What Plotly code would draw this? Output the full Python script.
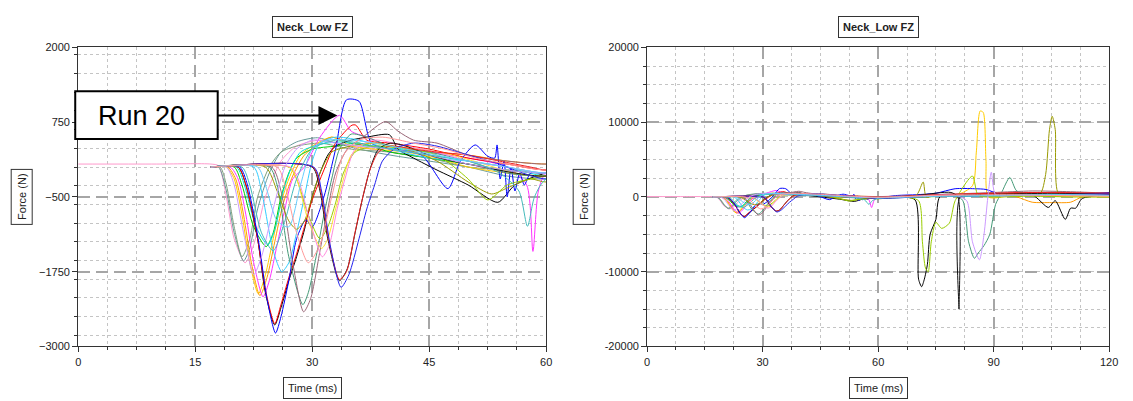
import plotly.graph_objects as go

W, H = 1133, 401
grid_major = "#a6a6a6"
grid_minor = "#c4c4c4"
frame_color = "#333333"
text_color = "#222222"

# one entry per run: colour, time (ms), force (N)
run_colors = [
    "#ff99cc", "#669999", "#7fa07f", "#ffcc00", "#ff9900", "#ff33ff",
    "#00cc00", "#00dddd", "#000000", "#ff0000", "#0000ff", "#33ccff",
    "#449977", "#996677", "#999900", "#99cc00", "#ffe033", "#ff88dd",
    "#111111", "#ee2222", "#2222ee", "#cc99ff", "#44bbbb", "#66ccff",
    "#ff9999",
]

run_times = [
    [0, 10, 17, 18, 19, 20, 21.4, 22.5, 24, 26, 28, 31, 35, 40, 45, 50, 55, 60, 70, 80, 90, 100, 110, 120],
    [17, 18, 19, 20, 21.2, 22, 23, 24.5, 26, 28, 30.7, 33, 36, 40, 45, 50, 55, 60, 70, 80, 90, 100, 110, 120],
    [17, 18.2, 19, 20, 21, 22, 23, 24.5, 26, 28, 31, 35, 40, 45, 50, 55, 60, 75, 90, 105, 120],
    [17, 19, 20, 21, 22, 23.1, 24, 25, 26, 27, 28.5, 30, 32.5, 35, 38, 42, 46, 50, 55, 60, 70, 80, 84.5, 85.5, 86.5, 87.3, 88, 88.7, 95, 105, 120],
    [17, 19.2, 20.2, 21.2, 22.2, 23.3, 24.2, 25.2, 26.2, 27.5, 29, 31, 32.5, 35, 40, 45, 50, 55, 60, 70, 80, 90, 96, 100, 105, 110, 113, 120],
    [17, 19.5, 20.5, 21.5, 22.5, 23.7, 24.5, 25.5, 26.5, 27.5, 29, 31, 33.5, 35, 37, 40, 45, 50, 55, 57.5, 58.3, 59, 60, 70, 80, 90, 100, 110, 120],
    [17, 20, 21, 22.5, 24.1, 25, 26, 27, 28, 30, 33, 36, 40, 45, 50, 55, 60, 70, 80, 90, 100, 110, 120],
    [17, 20.3, 21.3, 22.8, 24.3, 25.2, 26.2, 27.2, 28.5, 31, 34, 37, 41, 45, 50, 55, 60, 75, 90, 105, 120],
    [17, 20.5, 21.5, 23, 24, 25.2, 26, 27, 28, 29, 30, 31, 32, 33, 35, 37, 39.9, 41, 43, 46, 50, 53.8, 56, 60, 65, 69.6, 70.5, 71.3, 72, 72.8, 73.5, 75, 76, 80, 90, 100, 104.2, 106, 108.6, 110, 111.3, 113, 120],
    [17, 20.5, 21.5, 23, 24, 25.2, 26, 27, 28, 29, 30, 31.5, 33, 35.1, 35.6, 37, 40, 45, 50, 55, 60, 70, 80, 90, 100, 110, 120],
    [17, 20.7, 21.7, 23.2, 24.2, 25.3, 26, 27, 28, 29.2, 30, 31.5, 33, 34.4, 36, 37.6, 40, 44, 47.4, 49, 50.9, 52.5, 53.4, 53.7, 54.1, 54.6, 55, 55.5, 56, 56.6, 57.2, 58, 60, 65, 70, 75, 80, 85, 88, 92, 100, 110, 120],
    [17, 22.5, 23.5, 25, 26.1, 27, 28, 29, 30, 31, 33, 36, 40, 45, 50, 55, 60, 75, 90, 105, 120],
    [17, 24.5, 25.5, 27, 28.8, 29.5, 30.5, 31.5, 32.5, 33.5, 35, 37, 40, 45, 50, 55, 60, 70, 80, 82, 83.5, 85, 86, 87.5, 89, 90.5, 92, 94.2, 96, 100, 110, 120],
    [17, 24.8, 26, 27.5, 28.9, 29.8, 31, 32, 33, 34.5, 36.5, 39.4, 41, 43, 46, 50, 55, 60, 70, 80, 90, 100, 110, 120],
    [17, 24, 25.5, 27, 28, 29, 30, 31, 32.5, 35, 38, 42, 46, 50, 53, 55, 58, 60, 65, 70, 71.7, 72.5, 75, 85, 95, 102, 103.5, 104.5, 105.2, 106, 106.8, 110, 120],
    [17, 27, 28, 29.5, 31, 32, 33, 34, 35.5, 38, 42, 46, 50, 52.5, 55, 58, 60, 66, 70.5, 71.5, 72.3, 73, 73.8, 75, 76.5, 78.5, 80, 84.5, 86, 90, 100, 110, 120],
    [17, 27, 28, 29.5, 31.2, 32, 33, 34, 35, 37, 40, 44, 48, 52, 56, 60, 75, 90, 105, 120],
    [17, 27.2, 28.2, 29.7, 31.3, 32.2, 33.2, 34.2, 35.5, 38, 42, 46, 50, 55, 60, 75, 90, 105, 120],
    [17, 30, 31, 32, 33.5, 34.5, 35.5, 36.5, 37.5, 38.5, 40, 42, 45, 48, 52, 56, 60, 70, 78.9, 80.7, 81, 81.3, 85, 95, 105, 120],
    [17, 30.1, 31.1, 32.1, 33.5, 34.4, 35.4, 36.4, 37.4, 38.5, 40, 43, 46, 50, 54, 58, 60, 75, 90, 105, 120],
    [17, 30.2, 31.2, 32.3, 33.7, 34.7, 36, 37, 38, 39, 40.5, 43, 46, 50, 54, 57, 60, 75, 90, 105, 120],
    [17, 19, 20, 21.2, 22.5, 23.5, 25, 26.5, 28, 30, 33, 36, 40, 45, 50, 55, 60, 70, 80, 83, 84.5, 86.3, 87.5, 88.5, 89.4, 90.5, 95, 105, 120],
    [17, 21, 22, 23.5, 25, 26.5, 28, 30, 33, 36, 40, 45, 50, 54, 56.5, 57.6, 58.5, 60, 75, 90, 105, 120],
    [17, 23, 24, 25.5, 27, 28.5, 30, 32, 35, 38, 42, 46, 50, 55, 60, 75, 90, 105, 120],
    [17, 25.5, 26.5, 28, 29.5, 31, 32.5, 34, 36, 39, 43, 47, 51, 55, 60, 75, 90, 105, 120],
]

run_forces = [
    [50, 50, 50, 20, -500, -1200, -1600, -1300, -500, 100, 350, 450, 350, 250, 150, 50, -100, -150, 100, 200, 0, 300, 200, 100],
    [0, 0, -400, -1100, -1570, -1350, -700, -100, 250, 420, 490, 400, 300, 200, 100, 0, -150, -200, 0, 300, 100, 400, 300, 200],
    [0, 0, -300, -1000, -1500, -1200, -500, 0, 250, 350, 400, 300, 250, 150, 0, -50, -100, 200, 100, 300, 100],
    [0, 0, -200, -800, -1600, -2120, -1800, -1200, -600, -200, 200, 350, 500, 350, 300, 250, 150, 0, -100, -150, 100, 200, 1500, 6000, 11500, 11300, 5000, 0, 200, 100, 0],
    [0, 0, -200, -800, -1600, -2150, -1850, -1250, -650, -150, 200, 400, 500, 400, 300, 250, 200, 100, 50, 100, 200, 300, 0, -700, -750, -700, 0, 100],
    [0, 0, -200, -800, -1600, -2170, -1900, -1300, -700, -200, 0, 500, 865, 600, 500, 350, 250, 150, 0, -300, -1410, -400, -100, 100, 200, 300, 200, 400, 300],
    [0, 0, -300, -1000, -1330, -1100, -500, -100, 150, 300, 350, 400, 250, 150, 50, -50, -100, 0, 100, 200, 300, 200, 300],
    [0, 0, -300, -1000, -1300, -1050, -450, -50, 250, 380, 420, 350, 300, 200, 100, 0, -150, 100, 200, 200, 150],
    [0, 0, -300, -1200, -2100, -2640, -2350, -1900, -1500, -1050, -500, -100, 200, 350, 450, 500, 540, 300, 150, -50, -300, -590, -300, -100, 0, -400, -11000, -12000, -11000, -9000, -5000, -3000, 0, 300, 400, 300, -1400, -500, -3000, -1500, -1500, -200, 300],
    [0, 0, -300, -1200, -2050, -2620, -2300, -1850, -1450, -1000, -550, -50, 400, 700, 700, 450, 400, 300, 150, 50, -50, 100, 300, 500, 600, 500, 400],
    [0, 0, -300, -1300, -2200, -2775, -2500, -1900, -1200, -880, -1000, -500, 300, 1124, 1100, 400, 300, 200, -360, 100, 370, 180, 150, 370, -200, 100, -500, 0, -400, -100, -300, -100, -100, 200, 300, 500, 1100, 1100, 1000, 300, 200, 400, 600],
    [0, 0, -400, -1400, -1750, -1600, -1100, -500, 100, 400, 500, 450, 300, 150, 100, 0, -100, 200, 100, 300, 200],
    [0, 0, -300, -1500, -2300, -2100, -1500, -800, -200, 300, 550, 500, 350, 250, 100, -100, -150, 100, 300, -500, -6000, -8200, -7500, -6500, -5000, -1000, 500, 2600, 800, 400, 300, 200],
    [0, 0, -400, -1600, -2420, -2200, -1400, -700, -100, 300, 500, 760, 600, 450, 400, 200, 100, 50, 200, 400, 600, 800, 700, 500],
    [0, 0, -400, -900, -1040, -900, -500, -100, 250, 350, 400, 300, 100, -250, -450, -350, -200, -250, 0, 300, 2000, 0, 200, 300, 400, 400, 3000, 9000, 10800, 9000, 500, 300, 200],
    [0, 0, -200, -800, -1200, -1000, -600, -100, 250, 350, 300, 200, -200, -550, -300, -200, -150, 0, -500, -6000, -9500, -10000, -6000, -3400, -4200, -3500, -500, 2800, 200, 0, 100, 0, 0],
    [0, 0, -200, -900, -1360, -1200, -700, -200, 200, 400, 350, 300, 200, 50, -100, -150, 100, 300, 200, 100],
    [0, 0, -200, -900, -1500, -1300, -700, -200, 300, 450, 350, 250, 100, 0, -100, 200, 300, 200, 300],
    [0, 0, -400, -1200, -1900, -1700, -1100, -500, 0, 300, 400, 350, 200, 100, 0, -100, -150, 200, 600, 0, -15000, 0, 300, 400, 500, 400],
    [0, 0, -400, -1200, -1880, -1750, -1150, -550, -50, 250, 350, 300, 250, 200, 100, 0, -50, 300, 500, 600, 500],
    [0, 0, -400, -1300, -2010, -1800, -1200, -700, -300, 100, 300, 400, 350, 200, 50, -100, -200, 100, 200, 300, 400],
    [0, 0, -300, -1100, -1800, -1500, -700, 0, 300, 450, 400, 350, 300, 200, 50, -50, -100, 100, 200, -500, -6000, -8400, -5000, 0, 3300, 300, 200, 300, 200],
    [0, 0, -300, -1100, -1400, -900, -200, 300, 450, 400, 300, 200, 100, -100, -400, -990, -500, -200, 100, 200, 300, 200],
    [0, 0, -300, -900, -1000, -300, 300, 450, 450, 400, 300, 200, 100, 0, -100, 100, 200, 300, 200],
    [0, 0, -300, -1100, -1600, -1300, -500, 200, 450, 500, 400, 300, 150, 50, -50, 200, 300, 200, 100],
]

left_x_range = [0, 60]
left_y_range = [-3000, 2000]
right_x_range = [0, 120]
right_y_range = [-20000, 20000]
right_y_ticks = [-20000, -10000, 0, 10000, 20000]
right_y_labels = ["-20000", "-10000", "0", "10000", "20000"]

fig = go.Figure()
for color, t, f in zip(run_colors, run_times, run_forces):
    for xa, ya in (("x", "y"), ("x2", "y2")):
        fig.add_trace(
            go.Scatter(
                x=t, y=f, mode="lines", xaxis=xa, yaxis=ya,
                line=dict(color=color, width=1, shape="spline", smoothing=0.7),
                showlegend=False, hoverinfo="skip",
            )
        )


def axis(domain, rng, dtick, minor_dtick, anchor):
    return dict(
        domain=domain, range=rng, dtick=dtick, tick0=rng[0], anchor=anchor,
        showline=True, linecolor=frame_color, linewidth=1, mirror=True,
        ticks="outside", ticklen=5, tickcolor=frame_color,
        showgrid=True, gridcolor=grid_major, griddash="12px,6px", gridwidth=1.5,
        zeroline=False,
        tickfont=dict(family="Liberation Sans", size=11, color=text_color),
        minor=dict(dtick=minor_dtick, showgrid=True, gridcolor=grid_minor,
                   griddash="dot", gridwidth=1, ticks="outside", ticklen=3,
                   tickcolor=frame_color),
    )


y_dom = [1 - 351 / H, 1 - 42.7 / H]
yaxis2 = axis(y_dom, right_y_range, 10000, 2500, "x2")
yaxis2.update(tickmode="array", tickvals=right_y_ticks, ticktext=right_y_labels)

fig.update_layout(
    width=W, height=H,
    margin=dict(l=0, r=0, t=0, b=0),
    paper_bgcolor="white", plot_bgcolor="white",
    showlegend=False,
    xaxis=axis([76 / W, 549 / W], left_x_range, 15, 3.75, "y"),
    yaxis=axis(y_dom, left_y_range, 1250, 312.5, "x"),
    xaxis2=axis([651 / W, 1118 / W], right_x_range, 30, 7.5, "y2"),
    yaxis2=yaxis2,
)

box = dict(bordercolor=frame_color, borderwidth=1, bgcolor="white", borderpad=4,
           showarrow=False, xref="paper", yref="paper",
           xanchor="center", yanchor="middle",
           font=dict(family="Liberation Sans", size=11, color=text_color))
for cx, fx in ((313, 19), (885, 587)):
    fig.add_annotation(text="<b>Neck_Low FZ</b>", x=cx / W, y=1 - 22 / H, **box)
    fig.add_annotation(text="Force (N)", x=fx / W, y=1 - 197 / H, textangle=-90, **box)
    fig.add_annotation(text="Time (ms)", x=cx / W, y=1 - 394 / H, **box)

# "Run 20" callout
fig.add_shape(type="rect", xref="paper", yref="paper",
              x0=73 / W, x1=217 / W, y0=1 - 137 / H, y1=1 - 88 / H,
              line=dict(color="black", width=2), fillcolor="white")
fig.add_annotation(text="Run 20", x=94 / W, y=1 - 113 / H, xref="paper", yref="paper",
                   xanchor="left", yanchor="middle", showarrow=False,
                   font=dict(family="Liberation Sans", size=27, color="black"))
fig.add_annotation(text="", x=338 / W, y=1 - 113 / H, xref="paper", yref="paper",
                   ax=-(338 - 217), ay=0,
                   showarrow=True, arrowhead=2, arrowwidth=2, arrowsize=1.9,
                   arrowcolor="black")

fig.write_html(
    "out.html",
    config={"displayModeBar": False},
    post_script="document.body.style.margin='0px';document.documentElement.style.overflow='hidden';",
)
